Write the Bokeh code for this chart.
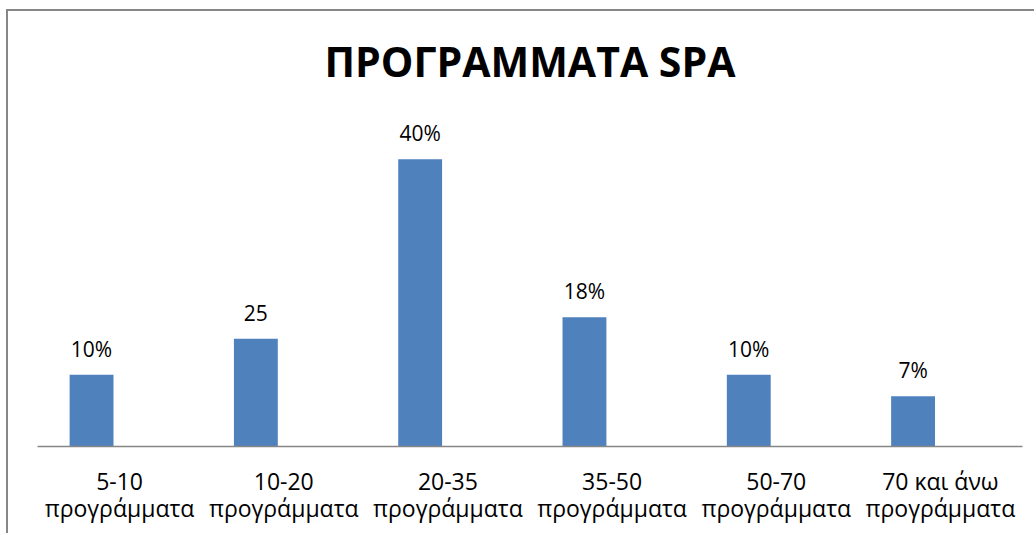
from bokeh.plotting import figure
from bokeh.models import ColumnDataSource, LabelSet, Title, InlineStyleSheet, Range1d, FixedTicker
from bokeh.core.properties import value
from bokeh.embed import file_html
from bokeh.resources import INLINE

title_text = "ΠΡΟΓΡΑΜΜΑΤΑ SPA"
categories = ["5-10\nπρογράμματα", "10-20\nπρογράμματα", "20-35\nπρογράμματα",
              "35-50\nπρογράμματα", "50-70\nπρογράμματα", "70 και άνω\nπρογράμματα"]
values = [10, 15, 40, 18, 10, 7]
labels = ["10%", "25", "40%", "18%", "10%", "7%"]

FONT = "Open Sans"
X0, X1 = 0.171, 6.166
Y1 = 46.94
n = len(categories)

xpos = [i + 0.5 for i in range(n)]
tickpos = [X0 + (i + 0.5) * (X1 - X0) / n for i in range(n)]
src = ColumnDataSource(dict(x=xpos, val=values, lab=labels))

p = figure(x_range=Range1d(X0, X1), y_range=Range1d(0, Y1), width=1028, height=524,
           output_backend="svg", toolbar_location=None, tools="",
           min_border_left=29, min_border_right=14, min_border_bottom=89, min_border_top=40)
p.title.visible = False

p.vbar(x="x", top="val", width=0.267, source=src, color="#4F81BD", line_color=None)

p.add_layout(LabelSet(x="x", y="val", text="lab", source=src, text_align="center",
                      text_baseline="alphabetic", y_offset=18, text_font=value(FONT),
                      text_font_size="21px", text_color="#000000"))

p.add_layout(Title(text=title_text, align="center", vertical_align="middle", text_font=FONT,
                   text_font_size="41px", text_font_style="bold", text_color="#000000",
                   standoff=40), "above")

p.yaxis.visible = False
p.xgrid.grid_line_color = None
p.ygrid.grid_line_color = None
p.outline_line_color = None
p.xaxis.ticker = FixedTicker(ticks=tickpos)
p.xaxis.major_label_overrides = {t: c for t, c in zip(tickpos, categories)}
p.xaxis.axis_line_color = "#868686"
p.xaxis.axis_line_width = 1.5
p.xaxis.major_tick_line_color = None
p.xaxis.minor_tick_line_color = None
p.xaxis.major_label_text_font = FONT
p.xaxis.major_label_text_font_size = "23px"
p.xaxis.major_label_text_line_height = 0.85
p.xaxis.major_label_text_color = "#000000"
p.xaxis.major_label_standoff = 12

p.stylesheets = [InlineStyleSheet(css=":host { margin-left: 6px; margin-top: 9px; border-left: 2px solid #878787; border-top: 2px solid #878787; }")]

open("out.html", "w").write(file_html(p, INLINE))
